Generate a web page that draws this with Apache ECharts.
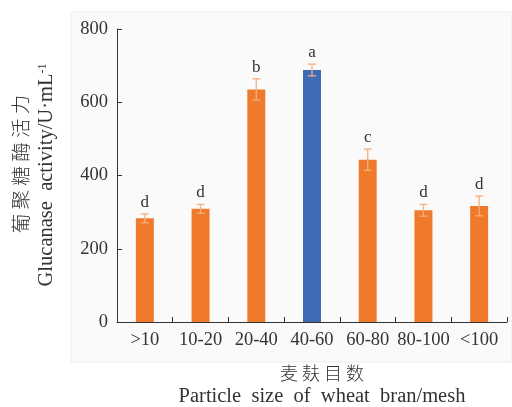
<!DOCTYPE html>
<html>
<head>
<meta charset="utf-8">
<script src="https://cdn.jsdelivr.net/npm/echarts@6/dist/echarts.min.js"></script>
<style>
  html, body { margin: 0; padding: 0; background: #ffffff; }
  #chart { width: 512px; height: 407px; }
</style>
</head>
<body>
<div id="chart"></div>
<script>
// Particle size classes of wheat bran (mesh)
const categories = ['>10', '10-20', '20-40', '40-60', '60-80', '80-100', '<100'];
// Glucanase activity (U/mL), mean values
const activity = [283, 309, 635, 688, 443, 305, 317];
// Standard deviation of each mean
const errors = [12, 12, 29, 16, 29, 16, 27];
// Significance letters
const letters = ['d', 'd', 'b', 'a', 'c', 'd', 'd'];
// Y axis ticks
const yTicks = [0, 200, 400, 600, 800];

const ORANGE = '#f07a2c';
const BLUE = '#3e6bb4';
const ERR = '#f5ae80';
const SERIF = '"Liberation Serif", "Times New Roman", serif';
const CJK = '"Noto Sans CJK SC", sans-serif';

const chart = echarts.init(document.getElementById('chart'), null, { renderer: 'canvas' });

const best = activity.indexOf(Math.max(...activity));

chart.setOption({
  animation: false,
  backgroundColor: '#ffffff',
  grid: { left: 117, right: 5, top: 29, bottom: 85, containLabel: false },
  graphic: [
    {
      type: 'rect', z: -10, silent: true,
      shape: { x: 71, y: 12, width: 441, height: 350 },
      style: { fill: '#fafafa', stroke: '#ececec', lineWidth: 1 }
    },
    {
      type: 'text', silent: true,
      x: 21, y: 164, rotation: Math.PI / 2,
      style: {
        text: '葡 聚 糖 酶 活 力',
        font: '300 19.5px ' + CJK, fill: '#333',
        align: 'center', verticalAlign: 'middle'
      }
    },
    {
      type: 'text', silent: true,
      x: 47, y: 175, rotation: Math.PI / 2,
      style: {
        text: '{a|Glucanase  activity/U·mL}{s|-1}',
        rich: {
          a: { font: '20.5px ' + SERIF, fill: '#333' },
          s: { font: '12px ' + SERIF, fill: '#333', verticalAlign: 'top', padding: [0, 0, 9, 0] }
        },
        align: 'center', verticalAlign: 'middle'
      }
    },
    {
      type: 'text', silent: true,
      x: 322, y: 373,
      style: {
        text: '麦 麸 目 数',
        font: '300 18px ' + CJK, fill: '#333',
        align: 'center', verticalAlign: 'middle'
      }
    },
    {
      type: 'text', silent: true,
      x: 322, y: 397,
      style: {
        text: 'Particle  size  of  wheat  bran/mesh',
        font: '20.5px ' + SERIF, fill: '#333',
        align: 'center', verticalAlign: 'middle'
      }
    }
  ],
  xAxis: {
    type: 'category',
    data: categories,
    axisLine: { lineStyle: { color: '#333', width: 1 } },
    axisTick: { show: true, inside: true, length: 5, alignWithLabel: false, lineStyle: { color: '#333' } },
    axisLabel: { color: '#333', fontFamily: SERIF, fontSize: 18.5, margin: 9, interval: 0 }
  },
  yAxis: {
    type: 'value',
    min: yTicks[0], max: yTicks[yTicks.length - 1], interval: yTicks[1] - yTicks[0],
    axisLine: { show: true, lineStyle: { color: '#333', width: 1 } },
    axisTick: { show: true, inside: true, length: 5, lineStyle: { color: '#333' } },
    splitLine: { show: false },
    axisLabel: { color: '#333', fontFamily: SERIF, fontSize: 18.5, margin: 9 }
  },
  series: [
    {
      type: 'bar',
      barWidth: 18,
      data: activity.map((v, i) => ({
        value: v,
        itemStyle: { color: i === best ? BLUE : ORANGE }
      }))
    },
    {
      type: 'custom',
      z: 10,
      data: activity.map((v, i) => [i, v, errors[i], letters[i]]),
      renderItem: function (params, api) {
        const i = api.value(0);
        const mean = api.value(1);
        const sd = api.value(2);
        const top = api.coord([i, mean + sd]);
        const bot = api.coord([i, mean - sd]);
        const x = top[0];
        const half = 4;
        const ls = { stroke: ERR, lineWidth: 1.3 };
        return {
          type: 'group',
          children: [
            { type: 'line', shape: { x1: x, y1: top[1], x2: x, y2: bot[1] }, style: ls },
            { type: 'line', shape: { x1: x - half, y1: top[1], x2: x + half, y2: top[1] }, style: ls },
            { type: 'line', shape: { x1: x - half, y1: bot[1], x2: x + half, y2: bot[1] }, style: ls },
            {
              type: 'text',
              x: x, y: top[1] - 3,
              style: {
                text: letters[params.dataIndex],
                font: '17px ' + SERIF, fill: '#333',
                align: 'center', verticalAlign: 'bottom'
              }
            }
          ]
        };
      }
    }
  ]
});
</script>
</body>
</html>
